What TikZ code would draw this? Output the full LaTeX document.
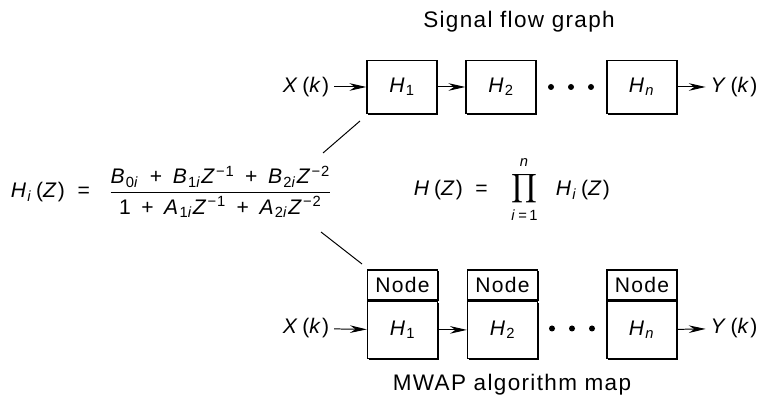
\documentclass[tikz,border=0pt]{standalone}
\usepackage{amsmath}
\usepackage{fontspec}
\setmainfont{Liberation Sans}[LetterSpace=6]
\usetikzlibrary{arrows.meta,positioning,shadows}
\newcommand\vb[1]{\textit{#1}}
\newcommand\sbi[1]{\textsubscript{\textit{#1}}}
\newcommand\pl{\enspace+\enspace}

\begin{document}
\begin{tikzpicture}[x=0.25mm,y=0.25mm,>={Stealth[length=4.2mm,width=1.9mm]},
 every node/.style={font=\fontsize{15}{18}\selectfont},
 box/.style={draw,line width=1pt,fill=white,minimum width=17.5mm,minimum height=13.25mm,
  drop shadow={shadow xshift=0.35mm,shadow yshift=-0.35mm,opacity=1,fill=black}},
 tag/.style={box,minimum height=7.5mm},
 low/.style={box,minimum height=14.25mm},
 flow/.style={->,line width=0.7pt},
 title/.style={font=\fontsize{16}{19}\selectfont},
 lim/.style={inner sep=0pt,font=\fontsize{10.5}{12}\selectfont},
 dot/.style={fill=black}]
\useasboundingbox (0,0) rectangle (759,396);
% signal flow graph
\node[title] (sfg) at (519,374) {Signal flow graph};
\node (x1) at (306,309) {\vb{X}\,(\vb{k})};
\node[box] (h1) at (402,309) {\vb{H}\textsubscript{1}};
\node[box] (h2) at (501,309) {\vb{H}\textsubscript{2}};
\node[box] (hn) at (642,309) {\vb{H}\sbi{n}};
\node (y1) at (734,309) {\vb{Y}\,(\vb{k})};
\draw[flow] (x1)--(h1); \draw[flow] (h1)--(h2); \draw[flow] (hn)--(y1);
\foreach \x in {551,571,591} \fill[dot] (\x,309) circle (0.75mm);
% formulas
\node[anchor=west] (hi) at (6,204) {\vb{H}\sbi{i}\,(\vb{Z})\hspace{0.6em}=\hspace{0.9em}%
 $\genfrac{}{}{0.8pt}{0}{\mbox{\vb{B}\textsubscript{0\textit{i}}\pl\vb{B}\textsubscript{1\textit{i}}\vb{Z}\textsuperscript{−1}\pl\vb{B}\textsubscript{2\textit{i}}\vb{Z}\textsuperscript{−2}}}
 {\mbox{1\pl\vb{A}\textsubscript{1\textit{i}}\vb{Z}\textsuperscript{−1}\pl\vb{A}\textsubscript{2\textit{i}}\vb{Z}\textsuperscript{−2}}}$};
\node[anchor=west] (hz) at (409,206) {\vb{H}\,(\vb{Z})\hspace{0.6em}=};
\node[inner sep=0pt] (pr) at (524.5,207) {$\displaystyle\prod$};
\node[lim] (up) at (524.5,233) {\vb{n}};
\node[lim] (lo) at (524.5,181) {\vb{i}\,=\,1};
\node[anchor=west] (hiz) at (551,206) {\vb{H}\sbi{i}\,(\vb{Z})};
\coordinate (ua) at (360,275); \coordinate (ub) at (323,243);
\coordinate (la) at (321,164); \coordinate (lb) at (362,132);
\draw[line width=0.7pt] (ua)--(ub); \draw[line width=0.7pt] (la)--(lb);
% MWAP algorithm map
\node[tag] (n1) at (402.5,111) {Node};
\node[low,below=0pt of n1] (l1) {\vb{H}\textsubscript{1}};
\node[tag] (n2) at (502.5,111) {Node};
\node[low,below=0pt of n2] (l2) {\vb{H}\textsubscript{2}};
\node[tag] (nn) at (642,111) {Node};
\node[low,below=0pt of nn] (ln) {\vb{H}\sbi{n}};
\node (x2) at (306,67.5) {\vb{X}\,(\vb{k})};
\node (y2) at (734,67.5) {\vb{Y}\,(\vb{k})};
\draw[flow] (x2)--(l1); \draw[flow] (l1)--(l2); \draw[flow] (ln)--(y2);
\foreach \x in {552,572,592} \fill[dot] (\x,67.5) circle (0.75mm);
\node[title] (map) at (512,11) {MWAP algorithm map};
\end{tikzpicture}
\end{document}
